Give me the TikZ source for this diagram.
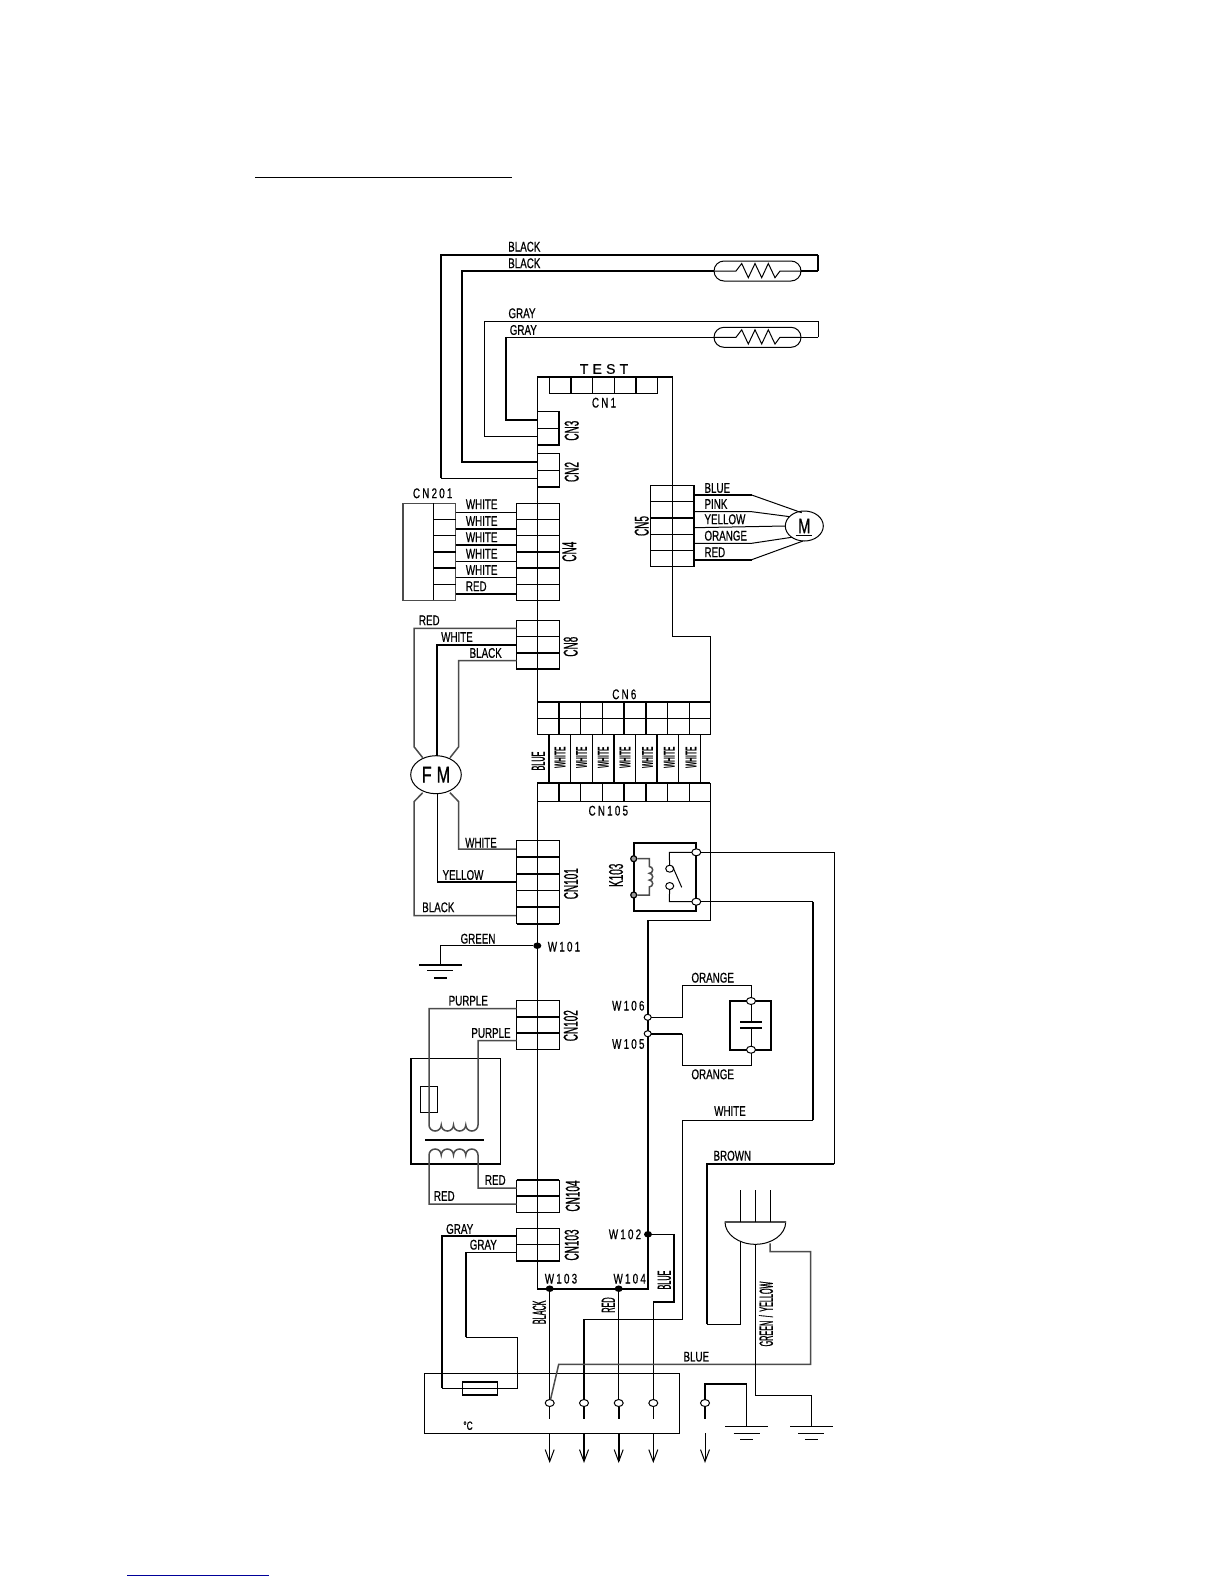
\documentclass[tikz,border=0pt]{standalone}
\usepackage{fontspec}
\usetikzlibrary{shapes.geometric,arrows.meta}
\newfontfamily\lblfam[FakeStretch=0.7,FakeBold=0.6]{Liberation Sans}
\newfontfamily\spcfam[FakeStretch=0.7,FakeBold=0.6,LetterSpace=16]{Liberation Sans}
\newfontfamily\testfam[LetterSpace=30,FakeBold=0.5]{Liberation Sans}
\newfontfamily\vcnfam[FakeStretch=0.5,FakeBold=0.6]{Liberation Sans}
\newfontfamily\vlblfam[FakeStretch=0.38,FakeBold=0.6]{Liberation Sans}
\newfontfamily\vwhfam[FakeStretch=0.42]{Liberation Sans Bold}
\newcommand{\boxn}[6][]{\node[boxbase,#1,minimum width={(#5-#3)*1pt},minimum height={(#6-#4)*1pt}] (#2) at ({(#3+#5)/2},{(#4+#6)/2}) {};}
\tikzset{
  wire/.style={line width=1pt,line join=miter},
  twire/.style={line width=2pt,line join=miter},
  gwire/.style={line width=1.5pt,draw=black!70,line join=miter},
  boxbase/.style={draw,line width=1pt,inner sep=0pt,outer sep=0pt,rectangle},
  lbl/.style={font=\lblfam\fontsize{14}{14}\selectfont,inner sep=0pt},
  spc/.style={font=\spcfam\fontsize{14}{14}\selectfont,inner sep=0pt},
  vcn/.style={font=\vcnfam\fontsize{20}{20}\selectfont,inner sep=0pt,rotate=90},
  vlbl/.style={font=\vlblfam\fontsize{19}{19}\selectfont,inner sep=0pt,rotate=90},
  vwh/.style={font=\vwhfam\fontsize{16}{16}\selectfont,inner sep=0pt,rotate=90},
  term/.style={draw,ellipse,fill=white,line width=1pt,minimum width=9pt,minimum height=7pt,inner sep=0pt,outer sep=0pt},
  dotn/.style={ellipse,fill=black,minimum width=8pt,minimum height=6.5pt,inner sep=0pt,outer sep=0pt},
  capsule/.style={draw,rectangle,rounded corners=10pt,line width=1pt,minimum width=87pt,minimum height=20pt,inner sep=0pt,outer sep=0pt},
  motor/.style={draw,ellipse,fill=white,line width=1pt,inner sep=0pt,outer sep=0pt},
  downarrow/.style={-{Straight Barb[length=12pt,width=9pt,line width=1pt]}},
  ground/.style={line width=1pt}
}
\begin{document}
\begin{tikzpicture}[x=1pt,y=-1pt]
\path[use as bounding box,fill=white] (0,0) rectangle (1224,1584);
% page rules
\coordinate (ruleA) at (255,177.3); \coordinate (ruleB) at (511.7,177.3);
\draw[line width=1.2pt] (ruleA)--(ruleB);
\coordinate (ruleC) at (127,1575.3); \coordinate (ruleD) at (269,1575.3);
\draw[line width=1.2pt,draw=blue!60!black] (ruleC)--(ruleD);

% --- thermistors
\node[capsule] (th1) at (757.5,271) {};
\node[capsule] (th2) at (757.5,337.3) {};
\coordinate (cn3a) at (537.3,420); \coordinate (cn3b) at (537.3,436);
\coordinate (cn2a) at (537.3,462); \coordinate (cn2b) at (537.3,478);
\coordinate (th1r) at (818,271); \coordinate (th2r) at (818,337.3);
\draw[line width=1.4pt] (th1r) -- (818,254.7);
\draw[twire] (818,254.7) -- (441,254.7) -- (441,478);
\draw[wire] (441,478) -- (cn2b);
\draw[twire] (cn2a) -- (462,462) -- (462,271) -- (th1.west);
\draw[twire] (th1.east) -- (th1r);
\draw[wire] (th1.west) -- (736,271) -- (741.7,263.5) -- (748.3,277.7) -- (755,263.5) -- (761.7,277.7) -- (768.3,263.5) -- (775,277.7) -- (780,271) -- (th1.east);
\draw[wire] (th2r) -- (818,321.3) -- (484.7,321.3) -- (484.7,436) -- (cn3b);
\draw[wire] (th2.west) -- (506,337.3);
\draw[twire] (506,336.8) -- (506,420) -- (cn3a);
\draw[wire] (th2.east) -- (th2r);
\draw[wire] (th2.west) -- (736,337.3) -- (741.7,329.8) -- (748.3,344) -- (755,329.8) -- (761.7,344) -- (768.3,329.8) -- (775,344) -- (780,337.3) -- (th2.east);

\node[lbl] (tBlack1) at (524.3,246.7) {BLACK};
\node[lbl] (tBlack2) at (524.3,263.3) {BLACK};
\node[lbl] (tGray1) at (522,313.3) {GRAY};
\node[lbl] (tGray2) at (523.3,330) {GRAY};

% --- main board outline
\draw[wire] (537.3,376.7) -- (537.3,734.3);
\draw[wire] (537.3,783.3) -- (537.3,1288.7);
\draw[twire] (537.3,376.7) -- (672.7,376.7);
\draw[wire] (672.7,376.7) -- (672.7,636.3) -- (710.3,636.3) -- (710.3,701.7);
\draw[wire] (710.3,801.3) -- (710.3,920.3) -- (647.7,920.3);
\draw[twire] (647.7,920.3) -- (647.7,1288.7) -- (537.3,1288.7);

% --- CN1
\boxn{cn1}{549.3}{376.7}{657.7}{393.3}
\draw[twire] (549.3,376.7) -- (657.7,376.7);
\foreach \x in {571,636} \draw[twire] (\x,376.7) -- (\x,393.3);
\foreach \x in {592.3,614.3} \draw[wire] (\x,376.7) -- (\x,393.3);
\node[font=\testfam\fontsize{14}{14}\selectfont,inner sep=0pt] (tTest) at (604,369) {TEST};
\node[spc] (tCN1) at (604,402.7) {CN1};

% --- CN3, CN2
\boxn{cn3}{537.3}{411.7}{559}{445}
\draw[wire] (537.3,428) -- (559,428);
\draw[twire] (559,411.7) -- (559,445) -- (537.3,445);
\boxn{cn2}{537.3}{453.3}{559}{487}
\draw[wire] (537.3,470) -- (559,470);
\draw[twire] (537.3,487) -- (559,487);
\node[vcn] (tCN3) at (571.7,430.7) {CN3};
\node[vcn] (tCN2) at (571.7,472) {CN2};

% --- CN201 / CN4
\boxn[draw=black!70,line width=1.5pt]{cn201}{403}{503.3}{455.7}{600.3}
\draw[wire] (433.3,503.3) -- (433.3,600.3);
\boxn{cn4}{516.7}{503.3}{559}{600.3}
\foreach \y in {519.3,535.7,584.3} {\draw[wire] (433.3,\y)--(455.7,\y); \draw[wire] (516.7,\y)--(559,\y);}
\foreach \y in {552,568} {\draw[twire] (433.3,\y)--(455.7,\y); \draw[twire] (516.7,\y)--(559,\y);}
\foreach \y in {512.3,561.3,577.3} \draw[wire] (455.7,\y) -- (516.7,\y);
\foreach \y in {528.7,544.7,593.7} \draw[twire] (455.7,\y) -- (516.7,\y);
\node[spc] (tCN201) at (432.7,493.3) {CN201};
\node[vcn] (tCN4) at (569.3,551.7) {CN4};
\foreach \y/\n in {504.3/a,521/b,537.3/c,553.7/d,570/e} \node[lbl,anchor=west] (tW\n) at (465.7,\y) {WHITE};
\node[lbl,anchor=west] (tRedA) at (465.7,586.3) {RED};

% --- CN5 and motor M
\boxn{cn5}{650.3}{485.7}{694.3}{566.3}
\foreach \y in {501.3,534.3,550.7} \draw[wire] (650.3,\y)--(694.3,\y);
\draw[twire] (650.3,517.7)--(694.3,517.7);
\draw[twire] (694.3,485.7)--(694.3,566.3);
\node[vcn] (tCN5) at (641.7,526) {CN5};
\node[motor,minimum width=38pt,minimum height=30pt,font=\lblfam\fontsize{21}{21}\selectfont] (mot) at (804.3,526) {M};
\draw[wire] (795.5,535.3) -- (812,535.3);
\draw[twire] (694.3,495) -- (751.7,495);
\draw[wire] (751.7,495) -- (801.7,512.7);
\draw[wire] (694.3,511.7) -- (751.7,511.7) -- (790,516.7);
\draw[wire] (694.3,527.7) -- (mot.west);
\draw[wire] (694.3,543.3) -- (751.7,543.3) -- (791.7,537.3);
\draw[twire] (694.3,559.7) -- (751.7,559.7);
\draw[wire] (751.7,559.7) -- (803,541);
\node[lbl,anchor=west] (tBlueM) at (704.3,488) {BLUE};
\node[lbl,anchor=west] (tPink) at (704.3,504) {PINK};
\node[lbl,anchor=west] (tYel) at (704.3,519.3) {YELLOW};
\node[lbl,anchor=west] (tOra) at (704.3,535.7) {ORANGE};
\node[lbl,anchor=west] (tRedM) at (704.3,552.3) {RED};

% --- CN8
\boxn{cn8}{516.7}{620.7}{559}{669}
\draw[wire] (516.7,636.7)--(559,636.7);
\draw[twire] (516.7,652.7)--(559,652.7);
\draw[twire] (516.7,669)--(559,669);
\node[vcn] (tCN8) at (570.7,646.7) {CN8};

% --- CN6 / CN105 block
\boxn{cn6}{537.3}{701.7}{710.3}{734.3}
\draw[twire] (537.3,701.7)--(710.3,701.7);
\draw[wire] (537.3,718.3)--(710.3,718.3);
\boxn{cn105}{537.3}{783.3}{710.3}{801.3}
\draw[twire] (537.3,783.3)--(710.3,783.3);
\foreach \x in {580.3,602.3,667.3,689.3} {\draw[wire] (\x,701.7)--(\x,734.3); \draw[wire] (\x,783.3)--(\x,801.3);}
\foreach \x in {559,624,645.7} {\draw[twire] (\x,701.7)--(\x,734.3); \draw[twire] (\x,783.3)--(\x,801.3);}
\foreach \x in {570.3,592.3,635.7,678.7,700.3} \draw[wire] (\x,734.3)--(\x,783.3);
\foreach \x in {549,614.3,657.3} \draw[twire] (\x,734.3)--(\x,783.3);
\node[spc] (tCN6) at (624.3,694.3) {CN6};
\node[spc] (tCN105) at (608.3,810.7) {CN105};
\node[vlbl] (tBlueV) at (538.3,761) {BLUE};
\foreach \x/\n in {560/a,581.7/b,603.3/c,625/d,647.7/e,669.3/f,691/g} \node[vwh] (tWv\n) at (\x,757.7) {WHITE};

% --- Fan motor
\node[motor,minimum width=50.6pt,minimum height=38pt,font=\lblfam\fontsize{23}{23}\selectfont] (fm) at (436,774.7) {F\hspace{5pt}M};
\draw[gwire] (516.7,628.3) -- (414,628.3) -- (414,746.7) -- (422.7,757.7);
\draw[twire] (516.7,644.7) -- (437,644.7) -- (437,756);
\draw[gwire] (516.7,660.7) -- (458.7,660.7) -- (458.7,746.7) -- (450,757.7);
\draw[gwire] (422.7,792.7) -- (414,801.7) -- (414,915.7) -- (516.7,915.7);
\draw[wire] (437,793.7) -- (437,881.7);
\draw[twire] (437,881.7) -- (516.7,881.7);
\draw[gwire] (450,792.7) -- (458.7,801.7) -- (458.7,849) -- (516.7,849);
\node[lbl] (tRedF) at (429.3,620.3) {RED};
\node[lbl] (tWhF) at (457,637) {WHITE};
\node[lbl] (tBkF) at (485.7,653) {BLACK};
\node[lbl] (tWhF2) at (481,842.7) {WHITE};
\node[lbl] (tYeF) at (463,875) {YELLOW};
\node[lbl] (tBkF2) at (438.3,907.3) {BLACK};

% --- CN101
\boxn{cn101}{516.7}{840.3}{559}{923.7}
\draw[wire] (516.7,890.3)--(559,890.3);
\foreach \y in {857,874,906.7,923.7} \draw[twire] (516.7,\y)--(559,\y);
\node[vcn] (tCN101) at (571,883.7) {CN101};

% --- Relay K103
\boxn[line width=2pt]{k103}{633.7}{843}{696.3}{911}
\node[term] (kt1) at (696.3,852.3) {};
\node[term] (kt2) at (696.3,901.7) {};
\node[term,minimum width=8pt,minimum height=7pt] (kc1) at (669.7,868.7) {};
\node[term,minimum width=8pt,minimum height=7pt] (kc2) at (669.7,886) {};
\node[circle,draw,line width=1.2pt,minimum size=6pt,inner sep=0pt,fill=black!40] (kd1) at (633.7,858.7) {};
\node[circle,draw,line width=1.2pt,minimum size=6pt,inner sep=0pt,fill=black!40] (kd2) at (633.7,895) {};
\draw[wire] (kt1) -- (669.3,852.3) -- (kc1);
\draw[wire] (kc2) -- (669.3,901.7) -- (kt2);
\draw[wire] (672.7,866.7) -- (681.7,887.3);
\draw[gwire] (kd1) -- (649.3,858.7) -- (649.3,866.5)
  arc[start angle=90,end angle=-90,radius=3.4pt]
  arc[start angle=90,end angle=-90,radius=3.4pt]
  arc[start angle=90,end angle=-90,radius=3.4pt]
  -- (649.3,895) -- (kd2);
\node[vcn] (tK103) at (616,875.3) {K103};

% --- relay output wires
\coordinate (brownEnd) at (740.7,1240);
\draw[wire] (kt1) -- (834.3,852.3) -- (834.3,1163.7);
\draw[twire] (834.3,1163.7) -- (706.7,1163.7) -- (706.7,1324);
\draw[wire] (706.7,1324) -- (740.7,1324) -- (brownEnd);
\draw[wire] (kt2) -- (813.3,901.7);
\draw[twire] (813.3,901.7) -- (813.3,1120.3);
\draw[wire] (813.3,1120.3) -- (682.3,1120.3) -- (682.3,1319.3) -- (584,1319.3);

% --- W101 and ground
\node[dotn] (w101) at (537.3,945.7) {};
\coordinate (g0) at (440.3,964.7);
\draw[wire] (w101) -- (440.3,945.7) -- (g0);
\draw[twire] (419,964.7) -- (461.7,964.7);
\draw[ground] (427,970.7) -- (453,970.7);
\draw[twire] (434,978) -- (446.7,978);
\node[lbl] (tGreen) at (478,938.7) {GREEN};
\node[spc] (tW101) at (564,946.7) {W101};

% --- CN102 and transformer
\boxn{cn102}{516.7}{1000.7}{559}{1049.3}
\foreach \y in {1017,1032.7} \draw[twire] (516.7,\y)--(559,\y);
\node[vcn] (tCN102) at (570.7,1025.7) {CN102};
\boxn{trf}{410.7}{1058.3}{500.3}{1164}
\draw[twire] (500.3,1164) -- (410.7,1164) -- (410.7,1058.3);
\boxn{trffuse}{420.3}{1086.7}{437.3}{1112.3}
\draw[gwire] (516.7,1008.7) -- (429,1008.7) -- (429,1125)
  arc[start angle=180,end angle=360,x radius=6.125pt,y radius=6pt]
  arc[start angle=180,end angle=360,x radius=6.125pt,y radius=6pt]
  arc[start angle=180,end angle=360,x radius=6.125pt,y radius=6pt]
  arc[start angle=180,end angle=360,x radius=6.125pt,y radius=6pt]
  -- (478,1040.7) -- (516.7,1040.7);
\draw[twire] (425,1139.7) -- (484,1139.7);
\boxn{cn104}{516.7}{1180}{559}{1212.3}
\foreach \y in {1180,1196} \draw[twire] (516.7,\y)--(559,\y);
\node[vcn] (tCN104) at (572.7,1196) {CN104};
\draw[gwire] (516.7,1204) -- (429,1204) -- (429,1155)
  arc[start angle=180,end angle=0,x radius=6.125pt,y radius=6pt]
  arc[start angle=180,end angle=0,x radius=6.125pt,y radius=6pt]
  arc[start angle=180,end angle=0,x radius=6.125pt,y radius=6pt]
  arc[start angle=180,end angle=0,x radius=6.125pt,y radius=6pt]
  -- (478,1188) -- (516.7,1188);
\node[lbl] (tPu1) at (468.3,1000.7) {PURPLE};
\node[lbl] (tPu2) at (491,1033) {PURPLE};
\node[lbl] (tRe1) at (495.3,1180) {RED};
\node[lbl] (tRe2) at (444.3,1196) {RED};

% --- CN103 and thermal fuse box
\boxn{cn103}{516.7}{1228.3}{559}{1261}
\draw[wire] (516.7,1244.3)--(559,1244.3);
\draw[twire] (516.7,1261)--(559,1261);
\node[vcn] (tCN103) at (571.7,1245) {CN103};
\boxn{tbox}{424.3}{1373.3}{679.3}{1433.3}
\boxn[fill=white]{tfuse}{462.3}{1381.7}{497.7}{1395}
\draw[twire] (462.3,1381.7)--(497.7,1381.7);
\draw[twire] (462.3,1395)--(497.7,1395);
\draw[twire] (516.7,1236.3) -- (442,1236.3) -- (442,1388.3);
\draw[wire] (442,1388.3) -- (517.3,1388.3) -- (517.3,1337.3) -- (466,1337.3);
\draw[twire] (466,1337.3) -- (466,1252.3);
\draw[wire] (466,1252.3) -- (516.7,1252.3);
\node[lbl] (tGr1) at (459.7,1229) {GRAY};
\node[lbl] (tGr2) at (483.3,1244.7) {GRAY};
\node[font=\lblfam\fontsize{12}{12}\selectfont,inner sep=0pt] (tDeg) at (468,1425.7) {°C};

% --- capacitor
\node[term,minimum width=7pt,minimum height=6pt] (w106) at (647.7,1017.3) {};
\node[term,minimum width=7pt,minimum height=6pt] (w105) at (647.7,1033.7) {};
\boxn[line width=2pt]{capb}{729.7}{1001}{771.3}{1049.7}
\node[term] (c1) at (751,1001) {};
\node[term] (c2) at (751,1049.7) {};
\draw[wire] (w106) -- (682.3,1017.3) -- (682.3,985.3) -- (751,985.3) -- (c1);
\draw[twire] (w105) -- (682.3,1033.7);
\draw[wire] (682.3,1033.7) -- (682.3,1065.3) -- (751,1065.3) -- (c2);
\draw[wire] (c1) -- (751,1022);
\draw[wire] (751,1027.7) -- (c2);
\draw[twire] (740,1022) -- (762,1022);
\draw[twire] (740,1027.7) -- (762,1027.7);
\node[lbl] (tOr1) at (712.7,977.7) {ORANGE};
\node[lbl] (tOr2) at (712.7,1074.3) {ORANGE};
\node[spc] (tW106) at (628.3,1005.7) {W106};
\node[spc] (tW105) at (628.3,1044) {W105};
\node[lbl] (tWh3) at (730,1111) {WHITE};
\node[lbl] (tBr) at (732.3,1155.7) {BROWN};

% --- plug
\draw[wire,fill=white] (725,1222) -- (785.7,1222) arc[start angle=0,end angle=-180,x radius=30.35pt,y radius=22.3pt] -- cycle;
\draw[gwire] (725,1222) -- (785.7,1222);
\foreach \x in {740.7,755.7,770} \draw[wire] (\x,1222) -- (\x,1190);

% --- terminals and arrows
\foreach \x/\n in {549.7/a,584/b,618.7/c,653.3/d,705/e} {
  \node[term] (p\n) at (\x,1403) {};
  \coordinate (q\n) at (\x,1419.3);
  \coordinate (r\n) at (\x,1433.3);
  \coordinate (s\n) at (\x,1463);
}
\draw[wire] (pa) -- (qa);
\draw[twire] (pb) -- (qb);
\draw[twire] (pc) -- (qc);
\draw[wire] (pd) -- (qd);
\draw[twire] (pe) -- (qe);
\draw[wire,downarrow] (ra) -- (sa);
\draw[twire,downarrow] (rb) -- (sb);
\draw[twire,downarrow] (rc) -- (sc);
\draw[wire,downarrow] (rd) -- (sd);
\draw[wire,downarrow] (re) -- (se);

\node[dotn] (w103) at (549.7,1288.7) {};
\node[dotn] (w104) at (618.7,1288.7) {};
\node[dotn] (w102) at (648,1234.3) {};
\draw[wire] (w103) -- (pa);
\draw[wire] (w104) -- (pc);
\draw[twire] (584,1319.3) -- (pb);
\draw[wire] (w102) -- (674,1234.3);
\draw[twire] (674,1233.8) -- (674,1301.7) -- (653.3,1301.7);
\draw[wire] (653.3,1301.7) -- (pd);
\draw[gwire] (770,1243.3) -- (770,1251.7) -- (810.7,1251.7) -- (810.7,1364.3) -- (558.7,1364.3) -- (pa);
\draw[wire] (755.7,1244.3) -- (755.7,1395) -- (811.3,1395) -- (811.3,1426.3);
\draw[twire] (pe) -- (705,1383.7) -- (746.7,1383.7);
\draw[wire] (746.7,1383.7) -- (746.7,1426.3);
\foreach \x in {746.7,811.3} {
  \draw[ground] (\x-21.3,1426.3) -- (\x+21.3,1426.3);
  \draw[ground] (\x-13,1433.3) -- (\x+13,1433.3);
  \draw[ground] (\x-6.5,1439.3) -- (\x+6.5,1439.3);
}
\node[spc] (tW103) at (561,1278.7) {W103};
\node[spc] (tW104) at (629.7,1278.7) {W104};
\node[spc] (tW102) at (625,1234.3) {W102};
\node[vlbl] (tBk3) at (539.3,1312.3) {BLACK};
\node[vlbl] (tRe3) at (608.3,1305) {RED};
\node[vlbl] (tBl3) at (664.3,1280) {BLUE};
\node[lbl] (tBl4) at (696.3,1356.7) {BLUE};
\node[vlbl] (tGY) at (766,1314) {GREEN\hspace{1.5pt} / \hspace{1.5pt}YELLOW};
\end{tikzpicture}
\end{document}
